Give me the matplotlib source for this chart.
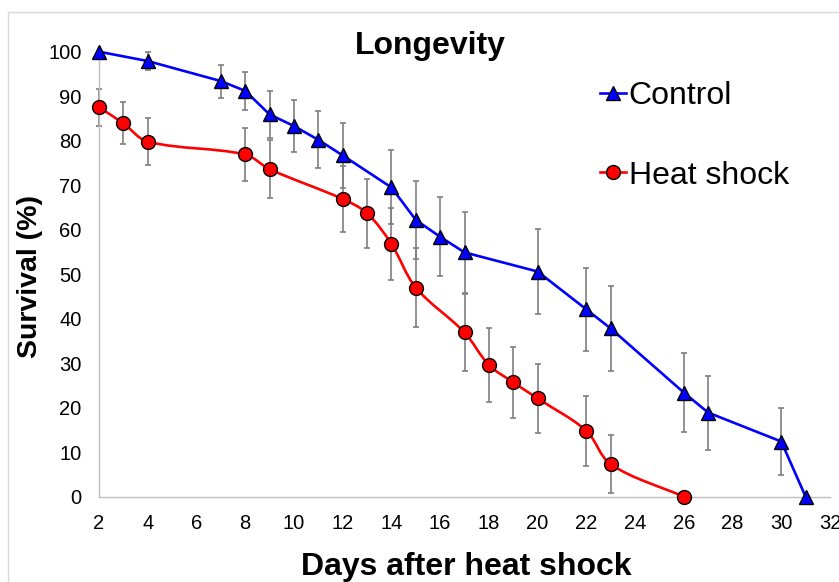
import matplotlib
matplotlib.use("Agg")
import matplotlib.pyplot as plt
from matplotlib.path import Path
from matplotlib.patches import PathPatch
from matplotlib.lines import Line2D
import numpy as np

plt.rcParams['font.family'] = ['Liberation Sans', 'DejaVu Sans']

# ---- data ----
control_days = [2, 4, 7, 8, 9, 10, 11, 12, 14, 15, 16, 17, 20, 22, 23, 26, 27, 30, 31]
control_surv = [100, 97.9, 93.4, 91.2, 85.9, 83.3, 80.2, 76.7, 69.5, 62.2, 58.4, 54.9, 50.6, 42.1, 37.8, 23.4, 18.9, 12.4, 0]
control_err = [0, 2.0, 3.7, 4.2, 5.3, 5.9, 6.4, 7.3, 8.3, 8.7, 8.9, 9.1, 9.5, 9.4, 9.5, 8.8, 8.3, 7.5, 0]

heat_days = [2, 3, 4, 8, 9, 12, 13, 14, 15, 17, 18, 19, 20, 22, 23, 26]
heat_surv = [87.5, 83.9, 79.8, 76.9, 73.6, 66.9, 63.7, 56.8, 47.0, 36.9, 29.6, 25.7, 22.1, 14.8, 7.3, 0]
heat_err = [4.2, 4.7, 5.3, 6.0, 6.5, 7.4, 7.8, 8.1, 8.8, 8.7, 8.3, 8.0, 7.8, 7.9, 6.5, 0]

x_ticks = list(range(2, 33, 2))
y_ticks = list(range(0, 101, 10))

title = "Longevity"
xlabel = "Days after heat shock"
ylabel = "Survival (%)"
labels = ["Control", "Heat shock"]

W, H = 839, 582
fig = plt.figure(figsize=(W / 100, H / 100), dpi=100)
ax = fig.add_axes([99 / W, 1 - 496.7 / H, (830 - 99) / W, (496.7 - 51.7) / H])
ax.set_xlim(2, 32)
ax.set_ylim(0, 100)

blue = '#0000FF'
red = '#FF0000'
ecol = '#7F7F7F'


def smooth_path(xs, ys, tr):
    """Bezier smoothing (chord-length limited) computed in display space."""
    pts = tr.transform(np.column_stack([xs, ys]).astype(float))
    n = len(pts)
    tangents = []
    for i in range(n):
        a = pts[max(i - 1, 0)]
        b = pts[min(i + 1, n - 1)]
        d = b - a
        nrm = np.hypot(*d)
        tangents.append(d / nrm if nrm > 0 else d)
    verts = [pts[0]]
    codes = [Path.MOVETO]
    for i in range(n - 1):
        p1, p2 = pts[i], pts[i + 1]
        L = np.hypot(*(p2 - p1))
        c1 = p1 + tangents[i] * L / 3.0
        c2 = p2 - tangents[i + 1] * L / 3.0
        verts += [c1, c2, p2]
        codes += [Path.CURVE4] * 3
    verts = tr.inverted().transform(np.array(verts))
    return Path(verts, codes)


# error bars
ax.errorbar(control_days, control_surv, yerr=control_err, fmt='none', ecolor=ecol,
            elinewidth=1.2, capsize=2.2, capthick=1.2, zorder=1, clip_on=False)
ax.errorbar(heat_days, heat_surv, yerr=heat_err, fmt='none', ecolor=ecol,
            elinewidth=1.2, capsize=2.2, capthick=1.2, zorder=1, clip_on=False)

# lines
ax.plot(control_days, control_surv, color=blue, lw=1.9, zorder=2, clip_on=False)
ax.add_patch(PathPatch(smooth_path(heat_days, heat_surv, ax.transData), facecolor='none',
                       edgecolor=red, lw=1.9, zorder=2, clip_on=False))

# markers
ax.plot(control_days, control_surv, ls='none', marker='^', ms=10.5, mfc=blue,
        mec='black', mew=1.0, zorder=3, clip_on=False)
ax.plot(heat_days, heat_surv, ls='none', marker='o', ms=10, mfc=red,
        mec='black', mew=1.0, zorder=3, clip_on=False)

ax.set_xticks(x_ticks)
ax.set_yticks(y_ticks)
ax.tick_params(length=0, labelsize=14.5, pad=12.5)
for s in ['top', 'right']:
    ax.spines[s].set_visible(False)
for s in ['left', 'bottom']:
    ax.spines[s].set_color('#BFBFBF')
    ax.spines[s].set_linewidth(1.0)

handles = [
    Line2D([], [], color=blue, lw=1.9, marker='^', ms=10.5, mfc=blue, mec='black', mew=1.0),
    Line2D([], [], color=red, lw=1.9, marker='o', ms=10, mfc=red, mec='black', mew=1.0),
]
leg = fig.legend(handles, labels, loc='upper left',
                 bbox_to_anchor=(600 / W, 1 - 81 / H), frameon=False,
                 fontsize=23, handlelength=0.8, handletextpad=0.1,
                 labelspacing=1.55, borderpad=0, borderaxespad=0)

fig.text(430 / W, 1 - 54 / H, title, ha='center', va='baseline',
         fontsize=23, fontweight='bold')
fig.text(466 / W, 1 - 575.5 / H, xlabel, ha='center', va='baseline',
         fontsize=23, fontweight='bold')
fig.text(30 / W, 1 - 277 / H, ylabel, ha='center', va='center', rotation=90,
         fontsize=20.5, fontweight='bold')

# outer frame
fig.add_artist(Line2D([8 / W, 1], [1 - 12 / H, 1 - 12 / H], color='#D9D9D9', lw=1.0,
                      transform=fig.transFigure))
fig.add_artist(Line2D([8 / W, 8 / W], [0, 1 - 12 / H], color='#D9D9D9', lw=1.0,
                      transform=fig.transFigure))

fig.savefig('out.png', dpi=100)
